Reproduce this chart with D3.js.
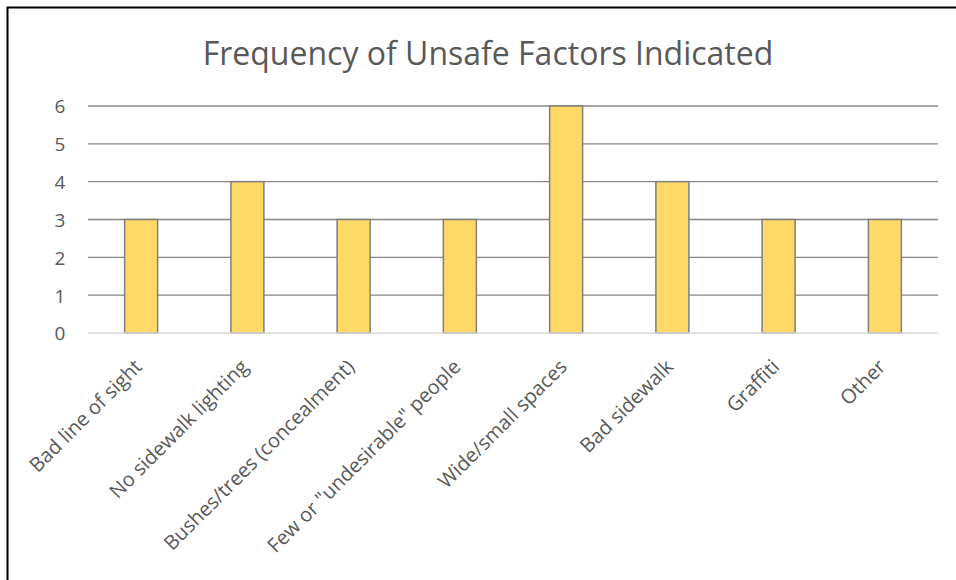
<!DOCTYPE html>
<meta charset="utf-8">
<script src="https://d3js.org/d3.v7.min.js"></script>
<style>
  body { margin: 0; background: #fff; }
  svg { font-family: 'Open Sans', sans-serif; }
  text { fill: #595959; }
</style>
<div id="chart"></div>
<script>
  // data
  var categories = ["Bad line of sight", "No sidewalk lighting", "Bushes/trees (concealment)",
    "Few or \"undesirable\" people", "Wide/small spaces", "Bad sidewalk", "Graffiti", "Other"];
  var counts = [3, 4, 3, 3, 6, 4, 3, 3];
  var yTicks = [0, 1, 2, 3, 4, 5, 6];

  var W = 956, H = 580;
  var margin = {top: 106, right: 18, bottom: 247, left: 88};
  var width = W - margin.left - margin.right,
      height = H - margin.top - margin.bottom;

  var svg = d3.select("#chart").append("svg")
      .attr("width", W)
      .attr("height", H);

  // outer frame (only top/left visible, rest cropped)
  svg.append("rect")
      .attr("x", 7.5).attr("y", 7.5)
      .attr("width", W + 20).attr("height", H + 20)
      .attr("fill", "none")
      .attr("stroke", "#000")
      .attr("stroke-width", 2);

  svg.append("text")
      .attr("x", 488)
      .attr("y", 65)
      .attr("text-anchor", "middle")
      .style("font-size", "32px")
      .text("Frequency of Unsafe Factors Indicated");

  var g = svg.append("g")
      .attr("transform", "translate(" + margin.left + "," + margin.top + ")");

  var x = d3.scaleBand()
      .domain(categories)
      .range([0, width]);

  var y = d3.scaleLinear()
      .domain([0, 6])
      .range([height, 0]);

  // gridlines
  g.selectAll("line.grid")
    .data(yTicks.filter(function(d) { return d > 0; }))
    .enter().append("line")
      .attr("class", "grid")
      .attr("x1", 0).attr("x2", width)
      .attr("y1", function(d) { return y(d); })
      .attr("y2", function(d) { return y(d); })
      .attr("stroke", "#868686")
      .attr("stroke-width", 1.3);

  // y axis labels
  var yAxis = g.append("g")
      .call(d3.axisLeft(y).tickValues(yTicks).tickFormat(d3.format("d")).tickSize(0).tickPadding(28))
      .attr("font-family", null);
  yAxis.select(".domain").remove();
  yAxis.selectAll("text")
      .style("font-size", "19px")
      .attr("text-anchor", "middle")
      .attr("dy", "0.36em");

  var barW = 33;
  g.selectAll("rect.bar")
    .data(counts)
    .enter().append("rect")
      .attr("class", "bar")
      .attr("x", function(d, i) { return x(categories[i]) + x.bandwidth() / 2 - barW / 2; })
      .attr("y", function(d) { return y(d); })
      .attr("width", barW)
      .attr("height", function(d) { return height - y(d); })
      .attr("fill", "#FFD966")
      .attr("stroke", "#7f7f7f")
      .attr("stroke-width", 1.5);

  // zero line
  g.append("line")
      .attr("x1", 0).attr("x2", width)
      .attr("y1", y(0)).attr("y2", y(0))
      .attr("stroke", "#d9d9d9")
      .attr("stroke-width", 1.5);

  // x axis labels
  var xAxis = g.append("g")
      .attr("transform", "translate(0," + height + ")")
      .call(d3.axisBottom(x).tickSize(0))
      .attr("font-family", null);
  xAxis.select(".domain").remove();
  xAxis.selectAll("text")
      .style("font-size", "20px")
      .attr("text-anchor", "end")
      .attr("y", 0).attr("dy", 0)
      .attr("transform", "translate(2,35) rotate(-45)");
</script>
